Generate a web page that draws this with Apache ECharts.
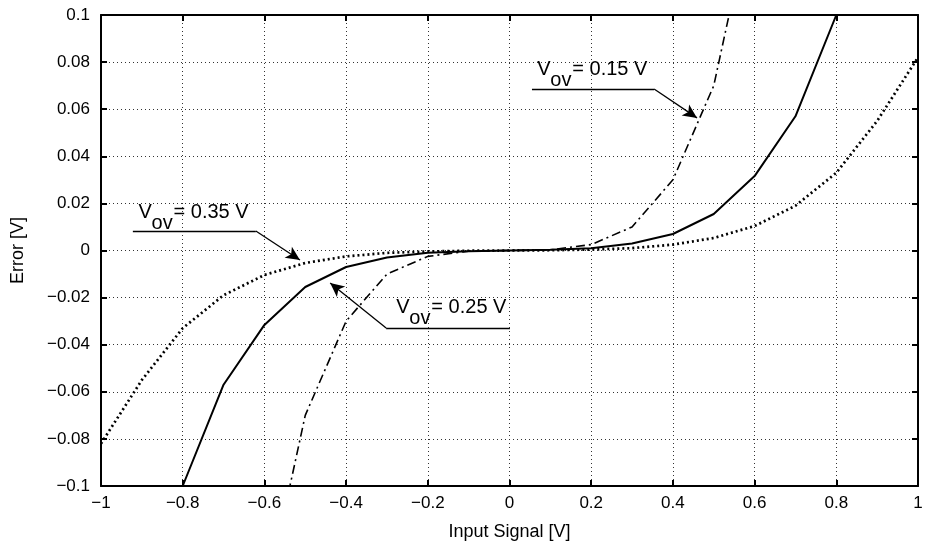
<!DOCTYPE html>
<html><head><meta charset="utf-8">
<script src="https://cdn.jsdelivr.net/npm/echarts@6/dist/echarts.min.js"></script>
<style>html,body{margin:0;padding:0;background:#fff}#c{width:930px;height:547px}</style>
</head><body><div id="c"></div>
<script>
const xVals = [-1,-0.9,-0.8,-0.7,-0.6,-0.5,-0.4,-0.3,-0.2,-0.1,0,0.1,0.2,0.3,0.4,0.5,0.6,0.7,0.8,0.9,1];
const ov035 = [-0.082,-0.055,-0.033,-0.019,-0.0104,-0.0053,-0.0025,-0.001,-0.0004,-0.0001,0,0.0001,0.0004,0.001,0.0025,0.0053,0.0104,0.019,0.033,0.055,0.082];
const ov025 = [null,null,-0.1,-0.057,-0.0316,-0.0155,-0.007,-0.003,-0.001,-0.0003,0,0.0003,0.001,0.003,0.007,0.0155,0.0316,0.057,0.1,null,null];
const ov015 = [null,null,null,null,-0.15,-0.07,-0.03,-0.01,-0.0025,-0.0003,0,0.0003,0.0025,0.01,0.03,0.07,0.15,null,null,null,null];
const xTitle = 'Input Signal [V]';
const yTitle = 'Error [V]';
const annotations = [
  {val:'0.15', text:[0.068,0.0810], a:[0.055,0.0686], b:[0.354,0.0686], c:[0.459,0.0563]},
  {val:'0.35', text:[-0.908,0.0205], a:[-0.922,0.0083], b:[-0.621,0.0083], c:[-0.513,-0.0040]},
  {val:'0.25', text:[-0.277,-0.0200], a:[0.001,-0.0329], b:[-0.302,-0.0329], c:[-0.439,-0.0138]}
];

const fmt = v => { const r = Math.round(v*100)/100; return String(r).replace('-', '\u2212'); };
const pairs = ys => xVals.map((x,i) => [x, ys[i]]);
const font = 'Liberation Sans, Arial, Helvetica, sans-serif';

const chart = echarts.init(document.getElementById('c'));
const axisCommon = {
  axisLine:{show:true,onZero:false,lineStyle:{color:'#000',width:2}},
  axisTick:{show:true,inside:true,length:6,lineStyle:{color:'#000',width:2}}
};
const markLines = [];
annotations.forEach(an => {
  markLines.push([{coord:an.a, symbol:'none'},{coord:an.b, symbol:'none'}]);
  markLines.push([{coord:an.b, symbol:'none'},{coord:an.c, symbol:'arrow'}]);
});
chart.setOption({
  animation:false,
  grid:{left:101,right:12,top:15,bottom:61,containLabel:false},
  xAxis:[
    Object.assign({type:'value',min:-1,max:1,interval:0.2,position:'bottom',
      name:xTitle,nameLocation:'middle',nameGap:37,
      nameTextStyle:{color:'#000',fontSize:18,fontFamily:font},
      axisLabel:{color:'#000',fontSize:17,fontFamily:font,margin:9,formatter:fmt},
      splitLine:{show:true,lineStyle:{color:'#333',type:[1,3],width:1}}},axisCommon),
    Object.assign({type:'value',min:-1,max:1,interval:0.2,position:'top',
      axisLabel:{show:false},splitLine:{show:false}},axisCommon)
  ],
  yAxis:[
    Object.assign({type:'value',min:-0.1,max:0.1,interval:0.02,position:'left',
      name:yTitle,nameLocation:'middle',nameGap:74,nameRotate:90,
      nameTextStyle:{color:'#000',fontSize:18,fontFamily:font},
      axisLabel:{color:'#000',fontSize:17,fontFamily:font,margin:11,formatter:fmt},
      splitLine:{show:true,lineStyle:{color:'#333',type:[1,3],width:1}}},axisCommon),
    Object.assign({type:'value',min:-0.1,max:0.1,interval:0.02,position:'right',
      axisLabel:{show:false},splitLine:{show:false}},axisCommon)
  ],
  series:[
    {type:'line',name:'0.35',data:pairs(ov035),showSymbol:false,symbol:'none',
     lineStyle:{color:'#000',width:2.7,type:[2,3],cap:'butt'},
     markLine:{silent:true,symbolSize:[10,14],label:{show:false},
       lineStyle:{color:'#000',width:1.3,type:'solid'},data:markLines}},
    {type:'line',name:'0.25',data:pairs(ov025),showSymbol:false,symbol:'none',
     lineStyle:{color:'#000',width:2}},
    {type:'line',name:'0.15',data:pairs(ov015),showSymbol:false,symbol:'none',
     lineStyle:{color:'#000',width:1.6,type:[9,4,2,4]}}
  ]
});
const g = [];
annotations.forEach(an => {
  const p = chart.convertToPixel({gridIndex:0}, an.text);
  const st = {fill:'#000',fontSize:20,fontFamily:font,textVerticalAlign:'top'};
  g.push({type:'text',left:p[0],top:p[1],style:Object.assign({text:'V'},st)});
  g.push({type:'text',left:p[0]+13,top:p[1]+11,style:Object.assign({text:'ov'},st)});
  g.push({type:'text',left:p[0]+35,top:p[1],style:Object.assign({text:'= '+an.val+' V'},st)});
});
chart.setOption({graphic:g});
</script></body></html>
